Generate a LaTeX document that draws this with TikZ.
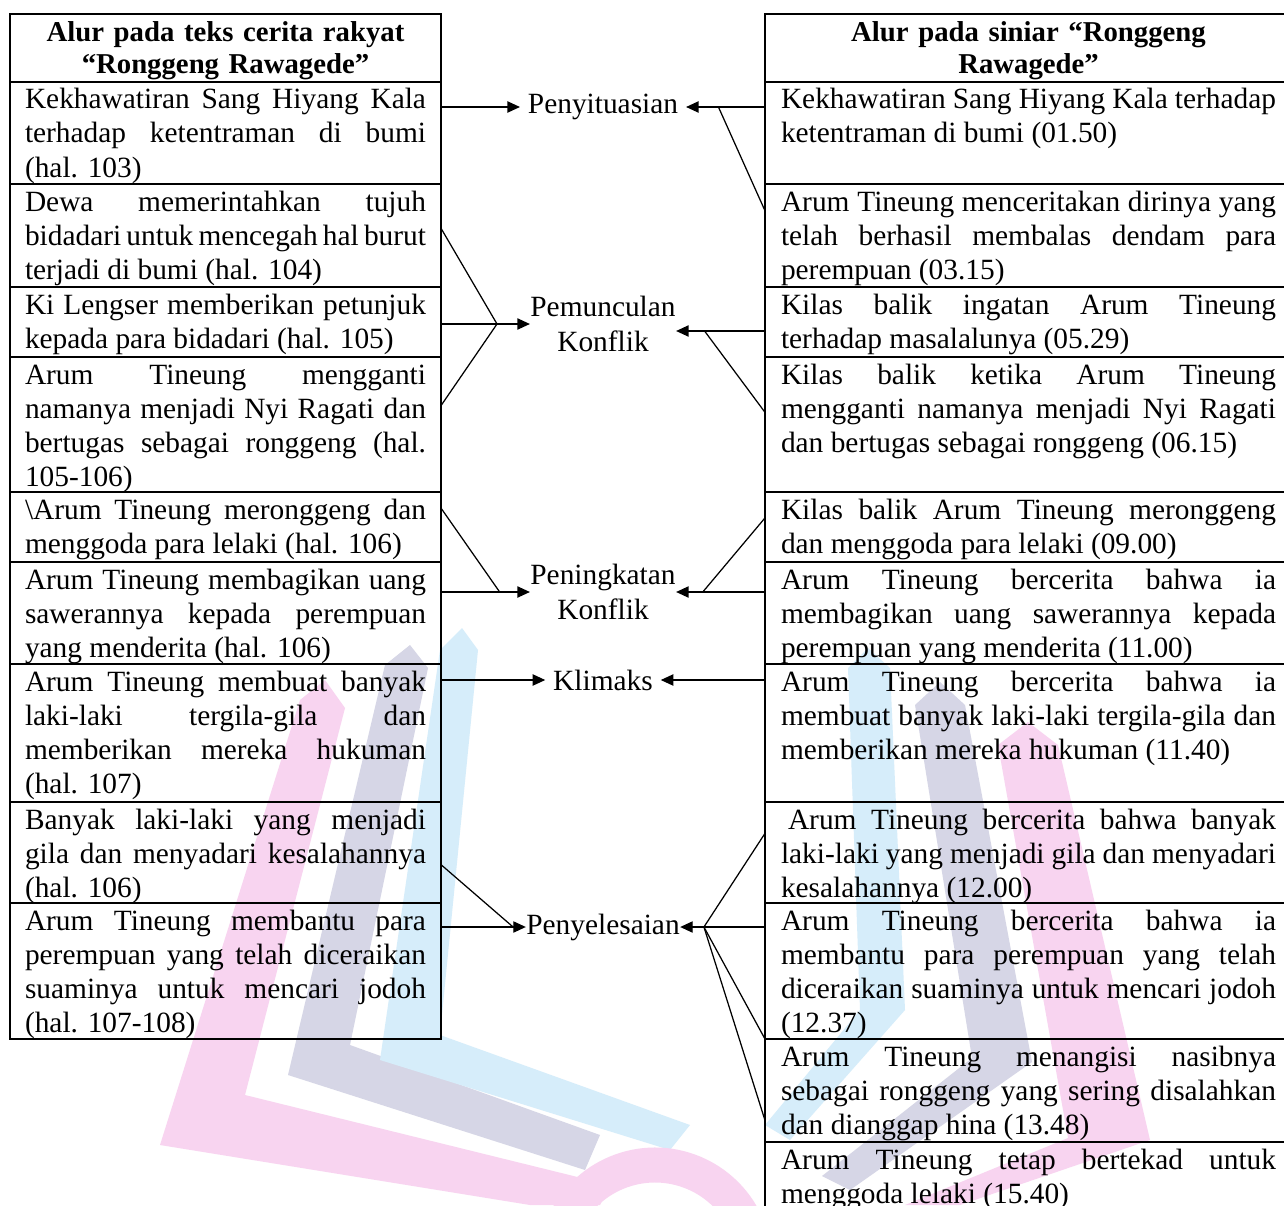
\documentclass[tikz,border=0pt]{standalone}
\usepackage{fontspec}
\setmainfont[WordSpace={1,1.5,2}]{Liberation Serif}
\usepackage{tikz}
\usetikzlibrary{positioning,calc,arrows.meta}
\hyphenpenalty=10000
\exhyphenpenalty=10000
\tolerance=10000
\definecolor{wmpink}{RGB}{248,212,240}
\definecolor{wmgrey}{RGB}{214,214,230}
\definecolor{wmblue}{RGB}{214,237,250}
\tikzstyle{line} = [draw,line width=0.5pt]
\tikzstyle{arrow} = [line,-{Triangle[length=5pt,width=4.5pt]}]
\tikzstyle{cell} = [draw,line width=0.7pt,outer sep=0pt,inner ysep=0pt,align=justify,text height=10.8pt,font=\fontsize{11.75}{13.6}\selectfont]
\tikzstyle{lcell} = [cell,text width=160.4pt,inner xsep=6pt]
\tikzstyle{rcell} = [cell,text width=198pt,inner xsep=6.4pt]
\tikzstyle{head} = [cell,anchor=north west,align=center,text height=11.2pt,text depth=16pt,font=\fontsize{11.5}{12.8}\selectfont\bfseries]
\tikzstyle{stage} = [align=center,inner sep=0pt,font=\fontsize{11.75}{14}\selectfont]

\begin{document}
\begin{tikzpicture}[x=0.4pt,y=-0.4pt]
    \useasboundingbox (0,0) rectangle (1284,1205);
    \clip (0,0) rectangle (1284,1205);
    \fill[white] (0,0) rectangle (1284,1205);
    % watermark
    \fill[wmpink] (300,700) -- (325,680) -- (345,708) -- (245,1095) -- (610,1185) -- (600,1205) -- (530,1205) -- (160,1145) -- cycle;
    \fill[wmgrey] (385,665) -- (410,645) -- (428,668) -- (350,1045) -- (600,1135) -- (585,1170) -- (288,1075) -- cycle;
    \fill[wmblue] (440,650) -- (462,628) -- (478,650) -- (440,1035) -- (690,1125) -- (670,1150) -- (380,1060) -- cycle;
    \fill[wmblue] (848,668) -- (868,648) -- (890,668) -- (905,1010) -- (790,1140) -- (765,1125) -- (860,1010) -- cycle;
    \fill[wmgrey] (915,705) -- (940,682) -- (965,705) -- (1032,1062) -- (850,1190) -- (822,1176) -- (972,1058) -- cycle;
    \fill[wmpink] (998,745) -- (1028,722) -- (1058,745) -- (1150,1140) -- (960,1205) -- (905,1205) -- (1068,1138) -- cycle;
    \draw[wmpink,line width=14pt] (655,1265) ++(200:100) arc[start angle=200,end angle=340,radius=100];

    \node[head,text width=160.4pt,inner xsep=6pt] (lrow0) at (10,14) {Alur pada teks cerita rakyat\\“Ronggeng Rawagede”};
    \node[lcell,text depth=30pt,below=0pt of lrow0] (lrow1) {Kekhawatiran Sang Hiyang Kala\linebreak terhadap ketentraman di bumi\linebreak (hal. 103)};
    \node[lcell,text depth=30.4pt,below=0pt of lrow1] (lrow2) {Dewa memerintahkan tujuh\linebreak bidadari untuk mencegah hal burut\linebreak terjadi di bumi (hal. 104)};
    \node[lcell,text depth=17.2pt,below=0pt of lrow2] (lrow3) {Ki Lengser memberikan petunjuk\linebreak kepada para bidadari (hal. 105)};
    \node[lcell,text depth=43.2pt,below=0pt of lrow3] (lrow4) {Arum Tineung mengganti\linebreak namanya menjadi Nyi Ragati dan\linebreak bertugas sebagai ronggeng (hal.\linebreak 105-106)};
    \node[lcell,text depth=17.2pt,below=0pt of lrow4] (lrow5) {\textbackslash Arum Tineung meronggeng dan\linebreak menggoda para lelaki (hal. 106)};
    \node[lcell,text depth=30pt,below=0pt of lrow5] (lrow6) {Arum Tineung membagikan uang\linebreak sawerannya kepada perempuan\linebreak yang menderita (hal. 106)};
    \node[lcell,text depth=44.4pt,below=0pt of lrow6] (lrow7) {Arum Tineung membuat banyak\linebreak laki-laki tergila-gila dan\linebreak memberikan mereka hukuman\linebreak (hal. 107)};
    \node[lcell,text depth=29.6pt,below=0pt of lrow7] (lrow8) {Banyak laki-laki yang menjadi\linebreak gila dan menyadari kesalahannya\linebreak (hal. 106)};
    \node[lcell,text depth=43.6pt,below=0pt of lrow8] (lrow9) {Arum Tineung membantu para\linebreak perempuan yang telah diceraikan\linebreak suaminya untuk mencari jodoh\linebreak (hal. 107-108)};

    \node[head,text width=198pt,inner xsep=6.4pt] (rrow0) at (765,14) {Alur pada siniar “Ronggeng\\Rawagede”};
    \node[rcell,text depth=30pt,below=0pt of rrow0] (rrow1) {Kekhawatiran Sang Hiyang Kala terhadap\linebreak ketentraman di bumi (01.50)};
    \node[rcell,text depth=30.4pt,below=0pt of rrow1] (rrow2) {Arum Tineung menceritakan dirinya yang\linebreak telah berhasil membalas dendam para\linebreak perempuan (03.15)};
    \node[rcell,text depth=17.2pt,below=0pt of rrow2] (rrow3) {Kilas balik ingatan Arum Tineung\linebreak terhadap masalalunya (05.29)};
    \node[rcell,text depth=43.2pt,below=0pt of rrow3] (rrow4) {Kilas balik ketika Arum Tineung\linebreak mengganti namanya menjadi Nyi Ragati\linebreak dan bertugas sebagai ronggeng (06.15)};
    \node[rcell,text depth=17.2pt,below=0pt of rrow4] (rrow5) {Kilas balik Arum Tineung meronggeng\linebreak dan menggoda para lelaki (09.00)};
    \node[rcell,text depth=30pt,below=0pt of rrow5] (rrow6) {Arum Tineung bercerita bahwa ia\linebreak membagikan uang sawerannya kepada\linebreak perempuan yang menderita (11.00)};
    \node[rcell,text depth=44.4pt,below=0pt of rrow6] (rrow7) {Arum Tineung bercerita bahwa ia\linebreak membuat banyak laki-laki tergila-gila dan\linebreak memberikan mereka hukuman (11.40)};
    \node[rcell,text depth=29.6pt,below=0pt of rrow7] (rrow8) {\hspace*{2.8pt}Arum Tineung bercerita bahwa banyak\linebreak laki-laki yang menjadi gila dan menyadari\linebreak kesalahannya (12.00)};
    \node[rcell,text depth=43.6pt,below=0pt of rrow8] (rrow9) {Arum Tineung bercerita bahwa ia\linebreak membantu para perempuan yang telah\linebreak diceraikan suaminya untuk mencari jodoh\linebreak (12.37)};
    \node[rcell,text depth=30.4pt,below=0pt of rrow9] (rrow10) {Arum Tineung menangisi nasibnya\linebreak sebagai ronggeng yang sering disalahkan\linebreak dan dianggap hina (13.48)};
    \node[rcell,text depth=30pt,below=0pt of rrow10] (rrow11) {Arum Tineung tetap bertekad untuk\linebreak menggoda lelaki (15.40)};

    \node[stage,inner xsep=3pt] (alur1) at (603,107) {Penyituasian};
    \node[stage] (alur2) at (603,324) {Pemunculan\\Konflik};
    \node[stage] (alur3) at (603,592) {Peningkatan\\Konflik};
    \node[stage,inner xsep=3pt] (alur4) at (603,680) {Klimaks};
    \node[stage] (alur5) at (603,927) {Penyelesaian};
    \coordinate (alur2r) at ([yshift=-2.8pt]alur2.east);

    \path [arrow] (lrow1.east |- alur1.west) -- (alur1.west);
    \path [arrow] (rrow1.west |- alur1.east) -- (alur1.east);
    \path [arrow] (lrow3.east |- alur2.west) -- (alur2.west);
    \path [arrow] (rrow3.west |- alur2r) -- (alur2r);
    \path [arrow] (lrow6.east |- alur3.west) -- (alur3.west);
    \path [arrow] (rrow6.west |- alur3.east) -- (alur3.east);
    \path [arrow] (lrow7.east |- alur4.west) -- (alur4.west);
    \path [arrow] (rrow7.west |- alur4.east) -- (alur4.east);
    \path [arrow] (lrow9.east |- alur5.west) -- (alur5.west);
    \path [arrow] (rrow9.west |- alur5.east) -- (alur5.east);

    \coordinate (m1r) at ($(rrow1.west |- alur1.east)!0.59!(alur1.east)$);
    \coordinate (m2l) at ($(lrow3.east |- alur2.west)!0.63!(alur2.west)$);
    \coordinate (m2r) at ($(rrow3.west |- alur2r)!0.68!(alur2r)$);
    \coordinate (m3l) at ($(lrow6.east |- alur3.west)!0.66!(alur3.west)$);
    \coordinate (m3r) at ($(rrow6.west |- alur3.east)!0.70!(alur3.east)$);
    \coordinate (m5l) at ($(lrow9.east |- alur5.west)!0.85!(alur5.west)$);
    \coordinate (m5r) at ($(rrow9.west |- alur5.east)!0.72!(alur5.east)$);

    \path [line] ($(rrow2.north west)!0.26!(rrow2.south west)$) -- (m1r);
    \path [line] ($(lrow2.north east)!0.43!(lrow2.south east)$) -- (m2l);
    \path [line] ($(lrow4.north east)!0.36!(lrow4.south east)$) -- (m2l);
    \path [line] ($(rrow4.north west)!0.41!(rrow4.south west)$) -- (m2r);
    \path [line] ($(lrow5.north east)!0.23!(lrow5.south east)$) -- (m3l);
    \path [line] ($(rrow5.north west)!0.37!(rrow5.south west)$) -- (m3r);
    \path [line] ($(lrow8.north east)!0.62!(lrow8.south east)$) -- (m5l);
    \path [line] ($(rrow8.north west)!0.31!(rrow8.south west)$) -- (m5r);
    \path [line] (rrow10.north west) -- (m5r);
    \path [line] ($(rrow10.north west)!0.79!(rrow10.south west)$) -- (m5r);
\end{tikzpicture}
\end{document}
